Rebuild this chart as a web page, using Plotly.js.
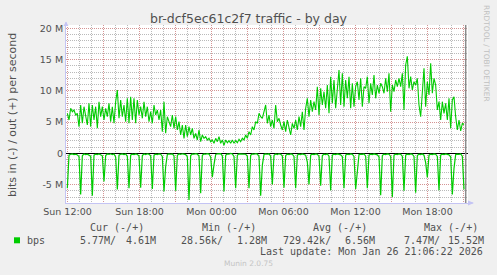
<!DOCTYPE html>
<html><head><meta charset="utf-8">
<script src="https://cdn.plot.ly/plotly-3.0.1.min.js"></script>
<style>html,body{margin:0;padding:0;background:#F0F0F0;} #chart{width:497px;height:275px;}</style>
</head><body><div id="chart"></div>
<script>
// ---- data (values in M bits/s) ----
const startTime = '2026-01-25T11:59:10Z';
const stepSeconds = 500;
const outMbps = [
6.40,5.33,7.20,6.66,6.93,6.13,6.40,4.26,7.73,4.80,
7.46,5.86,4.53,8.00,4.26,7.73,5.33,7.46,4.00,8.26,
5.86,7.46,5.33,7.20,5.86,8.00,5.06,7.46,4.80,8.26,
10.13,5.60,8.53,5.86,7.73,5.06,8.80,4.80,9.06,5.33,
8.80,4.80,8.53,6.13,7.46,5.60,8.26,5.86,7.46,5.06,
6.66,4.80,7.73,6.13,6.93,5.33,6.93,3.46,8.26,3.20,
5.86,5.06,4.26,6.13,4.00,5.86,3.73,5.06,2.93,4.53,
2.40,4.53,2.66,4.26,2.93,4.00,2.40,3.20,2.13,3.73,
1.86,2.93,2.40,2.66,2.13,2.40,1.86,2.13,1.60,2.40,
1.86,2.66,1.60,2.13,1.28,2.13,1.70,2.02,1.60,2.13,
1.60,2.02,1.70,2.24,1.86,2.40,2.13,2.93,2.40,3.46,
2.93,4.26,3.73,5.06,4.80,6.40,5.86,5.60,
6.66,7.73,4.80,6.13,4.26,5.33,4.00,7.73,5.06,5.60,
4.53,3.73,5.06,3.46,5.33,4.26,2.93,4.80,4.00,5.33,
3.73,5.86,4.26,6.66,3.73,7.20,8.80,5.86,8.53,6.66,
8.26,6.93,10.66,6.13,10.40,7.73,9.86,7.20,10.93,6.40,
12.26,8.00,11.73,7.20,10.93,13.33,7.73,12.80,7.46,11.73,
8.80,12.26,7.20,11.20,7.46,10.66,11.46,8.53,12.00,7.46,
10.66,10.40,12.26,8.00,11.20,9.33,12.53,8.80,10.93,9.60,
11.20,10.66,9.60,12.00,9.86,12.80,6.66,10.93,9.86,11.73,
10.66,12.00,10.66,12.80,6.93,14.13,15.52,10.40,12.26,10.13,
11.46,10.93,12.00,7.73,5.86,10.40,13.60,7.46,11.46,9.33,
14.40,9.60,12.00,10.93,6.93,8.26,5.33,8.26,6.40,8.00,
5.33,8.80,4.00,8.53,9.06,5.86,3.73,5.33,3.57,4.80,
4.61
];
const inMbps = [
5.6,0.3,0.15,0.1,0.2,0.12,0.25,0.5,6.6,0.4,
0.1,0.2,0.15,0.3,0.45,6.8,0.3,0.12,0.2,0.1,
0.25,0.4,4.5,0.35,0.1,0.18,0.08,0.22,0.12,0.6,
5.8,0.3,0.15,0.1,0.2,0.1,0.5,5.6,0.3,0.12,
0.2,0.1,0.18,0.45,5.5,0.35,0.1,0.2,0.08,0.15,
0.4,5.7,0.3,0.12,0.2,0.1,0.15,0.5,6.1,2.1,
0.2,0.1,0.15,0.08,0.4,6.0,0.3,0.1,0.18,0.08,
0.12,0.2,0.55,7.47,0.35,0.1,0.15,0.05,0.12,0.45,
6.4,0.3,0.1,0.15,0.06,0.12,0.6,3.8,1.8,0.2,
0.08,0.12,0.05,0.4,6.1,0.3,0.1,0.15,0.03,0.1,
0.5,5.6,0.3,0.08,0.12,0.05,0.1,0.15,0.45,5.6,
0.3,0.1,0.15,0.06,0.12,0.5,6.8,1.9,0.2,0.1,
0.15,0.08,0.45,5.0,0.3,0.1,0.2,0.08,0.15,0.4,
5.5,0.35,0.12,0.2,0.1,0.15,0.5,5.6,0.3,0.12,
0.2,0.1,0.18,0.3,1.4,5.0,0.3,0.12,0.2,0.1,
0.15,0.5,5.2,0.35,0.15,0.2,0.1,0.45,5.9,0.3,
0.12,0.2,0.1,0.15,0.25,0.5,5.6,0.3,0.12,0.2,
0.1,0.15,0.5,5.7,2.5,0.2,0.12,0.18,0.1,0.45,
5.6,0.3,0.12,0.2,0.1,0.15,0.25,0.55,6.7,0.35,
0.12,0.2,0.1,0.15,0.5,7.0,0.3,0.12,0.2,0.1,
0.15,0.45,6.0,0.3,0.12,0.2,0.1,0.15,0.5,6.3,
0.35,0.12,0.2,0.1,0.3,1.5,3.84,0.3,0.12,0.2,
0.1,0.15,0.5,5.9,0.3,0.12,0.2,0.1,0.15,0.25,
0.55,6.6,2.4,0.2,0.12,0.18,0.1,0.45,5.77
];
const xRange = ['2026-01-25 11:52:30', '2026-01-26 21:22:30'];
const xTickVals = ['2026-01-25 12:00','2026-01-25 15:00','2026-01-25 18:00','2026-01-25 21:00',
  '2026-01-26 00:00','2026-01-26 03:00','2026-01-26 06:00','2026-01-26 09:00',
  '2026-01-26 12:00','2026-01-26 15:00','2026-01-26 18:00','2026-01-26 21:00'];
const xTickText = ['Sun 12:00','','Sun 18:00','','Mon 00:00','','Mon 06:00','','Mon 12:00','','Mon 18:00',''];
const yTickVals = [-5, 0, 5, 10, 15, 20];
const yTickText = ['-5 M', '0', '5 M', '10 M', '15 M', '20 M'];
const yRange = [-7.95, 20.53];
const seriesName = 'bps';
const legendHeaders = ['Cur (-/+)', 'Min (-/+)', 'Avg (-/+)', 'Max (-/+)'];
const legendValues = ['5.77M/', '4.61M', '28.56k/', '1.28M', '729.42k/', '6.56M', '7.47M/', '15.52M'];
const titleText = 'br-dcf5ec61c2f7 traffic - by day';
const yLabelText = 'bits in (-) / out (+) per second';
const lastUpdateText = 'Last update: Mon Jan 26 21:06:22 2026';
const watermarkText = 'Munin 2.0.75';
const sideText = 'RRDTOOL / TOBI OETIKER';

// ---- build ----
const t0 = Date.parse(startTime);
const fmt = ms => new Date(ms).toISOString().slice(0, 19).replace('T', ' ');
const xs = outMbps.map((_, i) => fmt(t0 + i * stepSeconds * 1000));
const inNeg = inMbps.map(v => -v);

const green = '#00CC00';
const traces = [
  {x: xs, y: inNeg, type: 'scatter', mode: 'lines', name: seriesName, line: {color: green, width: 1.2}, hoverinfo: 'skip'},
  {x: xs, y: outMbps, type: 'scatter', mode: 'lines', name: seriesName, line: {color: green, width: 1.1}, hoverinfo: 'skip'}
];

const L = 66, T = 25, W = 402, H = 178;
const px = x => (x - L) / W;
const py = y => (T + H - y) / H;
const textCol = '#505050';
const mono = 'DejaVu Sans Mono';
const axisCol = '#C4C4F4';
const gridMajor = 'rgba(240,110,110,0.5)';
const gridMinor = 'rgba(140,140,140,0.6)';

const ann = (text, x, y, o) => Object.assign({text: text, x: px(x), y: py(y), xref: 'paper', yref: 'paper',
  showarrow: false, xanchor: 'left', yanchor: 'middle', font: {family: mono, size: 10, color: textCol}}, o || {});

const headerX = [89.3, 201, 312, 423];
const valueX = [79, 125, 180.7, 236.5, 282.7, 344.7, 403.7, 447];
const annotations = [];
legendHeaders.forEach((h, k) => annotations.push(ann(h, headerX[k] - 1.5, 227.5)));
annotations.push(ann(seriesName, 26.7 - 1.5, 240));
legendValues.forEach((v, k) => annotations.push(ann(v, valueX[k] - 1.5, 240)));
annotations.push(ann(lastUpdateText, 484.5, 252, {xanchor: 'right'}));
annotations.push(ann(watermarkText, 248, 263.3, {xanchor: 'center', font: {family: 'DejaVu Sans', size: 7.5, color: '#C4C4C4'}}));
annotations.push(ann(sideText, 487, 53, {xanchor: 'center', textangle: 90, font: {family: 'DejaVu Sans', size: 7.5, color: '#C0C0C0'}}));
annotations.push(ann(yLabelText, 12, 115, {xanchor: 'center', textangle: -90, font: {family: 'DejaVu Sans', size: 11, color: textCol}}));

const shapes = [
  {type: 'line', xref: 'paper', yref: 'paper', x0: 0, x1: 0, ysizemode: 'pixel', yanchor: 1, y0: 0, y1: 3, line: {color: axisCol, width: 1}},
  {type: 'path', xref: 'paper', yref: 'paper', xsizemode: 'pixel', xanchor: 0, ysizemode: 'pixel', yanchor: 1,
   path: 'M -2.5,-1 L 2.5,-1 L 0,3.5 Z', fillcolor: axisCol, line: {width: 0}},
  {type: 'line', xref: 'paper', yref: 'paper', xsizemode: 'pixel', xanchor: 1, x0: 0, x1: 5, y0: 0, y1: 0, line: {color: axisCol, width: 1}},
  {type: 'path', xref: 'paper', yref: 'paper', xsizemode: 'pixel', xanchor: 1, ysizemode: 'pixel', yanchor: 0,
   path: 'M 0,2.5 L 0,-2.5 L 6,0 Z', fillcolor: axisCol, line: {width: 0}},
  {type: 'line', xref: 'paper', yref: 'paper', x0: px(465.7), x1: px(465.7), y0: 0, y1: 1, layer: 'above', line: {color: '#8A8A8A', width: 1.5}},
  {type: 'rect', xref: 'paper', yref: 'paper', x0: px(14), x1: px(20), y0: py(243.3), y1: py(237.3), fillcolor: green, line: {width: 0}}
];

const layout = {
  width: 497, height: 275,
  margin: {l: L, r: 497 - L - W, t: T, b: 275 - T - H},
  paper_bgcolor: '#F0F0F0', plot_bgcolor: '#FFFFFF', showlegend: false,
  font: {family: 'DejaVu Sans', color: textCol},
  title: {text: titleText, font: {family: 'DejaVu Sans', size: 12.5, color: textCol},
          x: 0.5, xref: 'container', xanchor: 'center', y: 1 - 19 / 275, yref: 'container', yanchor: 'middle'},
  xaxis: {type: 'date', range: xRange, tickmode: 'array', tickvals: xTickVals, ticktext: xTickText,
          showgrid: true, gridcolor: gridMajor, gridwidth: 1, griddash: '1px,1px',
          minor: {dtick: 3600000, tick0: '2026-01-25 12:00', showgrid: true, gridcolor: gridMinor, gridwidth: 1, griddash: '1px,1px'},
          showline: true, linecolor: axisCol, linewidth: 1, zeroline: false, ticks: '',
          tickfont: {family: 'DejaVu Sans', size: 9.5, color: textCol}, fixedrange: true},
  yaxis: {range: yRange, tickmode: 'array', tickvals: yTickVals, ticktext: yTickText,
          showgrid: true, gridcolor: gridMajor, gridwidth: 1, griddash: '1px,1px',
          minor: {dtick: 1, tick0: 0, showgrid: true, gridcolor: gridMinor, gridwidth: 1, griddash: '1px,1px'},
          zeroline: true, zerolinecolor: '#000000', zerolinewidth: 1.2,
          showline: true, linecolor: axisCol, linewidth: 1, ticks: '',
          tickfont: {family: 'DejaVu Sans', size: 9.5, color: textCol}, fixedrange: true},
  shapes: shapes,
  annotations: annotations
};

Plotly.newPlot('chart', traces, layout, {staticPlot: true, displayModeBar: false});
</script>
</body></html>
